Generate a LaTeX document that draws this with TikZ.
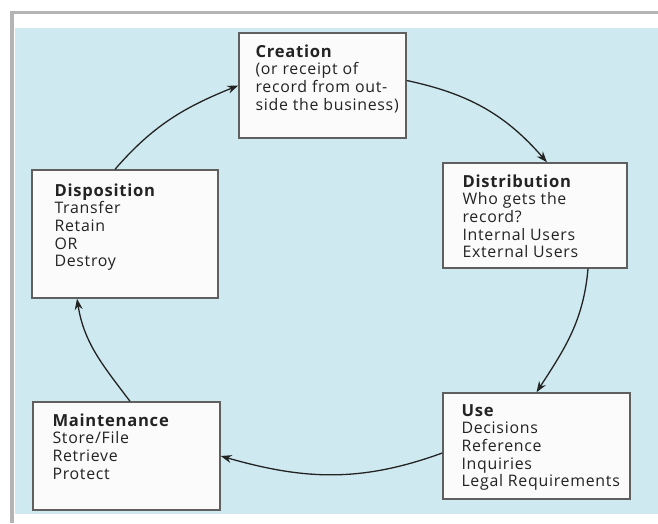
\documentclass[tikz,border=0pt]{standalone}
\usepackage{fontspec}
\setmainfont{Open Sans}[LetterSpace=4.5]
\usetikzlibrary{arrows.meta}
\definecolor{bgblue}{RGB}{206,234,240}
\definecolor{framegray}{RGB}{180,180,180}
\definecolor{boxline}{RGB}{95,95,95}
\definecolor{boxfill}{RGB}{251,251,251}
\definecolor{inkc}{RGB}{35,35,35}
\tikzset{
  cyclebox/.style={draw=boxline, line width=1.4pt, fill=boxfill, inner sep=0pt},
  boxtext/.style={anchor=base west, inner sep=0pt, text=inkc},
  cyclearrow/.style={draw=inkc, line width=1.3pt, -{Stealth[length=11pt,width=8pt]}}
}
\newcommand{\boxlines}[1]{\parbox[t]{220pt}{\fontsize{15.9}{17.6}\selectfont\raggedright #1}}
\newcommand{\hd}[1]{{\fontsize{16.6}{17.6}\selectfont\bfseries #1}}
\begin{document}
\begin{tikzpicture}[x=1pt,y=1pt]
\useasboundingbox (0,0) rectangle (658,523);
\fill[white] (0,0) rectangle (658,523);
% scanned page frame and background
\fill[bgblue] (15,9) rectangle (658,495);
\fill[framegray] (10,509) rectangle (658,511.5);
\fill[framegray] (10,0) rectangle (14,511.5);
% boxes
\node[cyclebox, minimum width=167pt, minimum height=105pt] (cre) at (322.5,437.5) {};
\node[cyclebox, minimum width=184pt, minimum height=105pt] (dist) at (535,307.5) {};
\node[cyclebox, minimum width=186pt, minimum height=128pt] (disp) at (125,289) {};
\node[cyclebox, minimum width=187pt, minimum height=106pt] (use) at (536.5,77) {};
\node[cyclebox, minimum width=187pt, minimum height=108pt] (maint) at (126.5,67) {};
% texts
\node[boxtext] (tcre) at ([xshift=17pt,yshift=-25pt]cre.north west)
  {\boxlines{\hd{Creation}\\(or receipt of\\record from out-\\side the business)}};
\node[boxtext] (tdist) at ([xshift=20pt,yshift=-25pt]dist.north west)
  {\boxlines{\hd{Distribution}\\Who gets the\\record?\\Internal Users\\External Users}};
\node[boxtext] (tdisp) at ([xshift=23pt,yshift=-27pt]disp.north west)
  {\boxlines{\hd{Disposition}\\Transfer\\Retain\\OR\\Destroy}};
\node[boxtext] (tuse) at ([xshift=19pt,yshift=-24pt]use.north west)
  {\boxlines{\hd{Use}\\Decisions\\Reference\\Inquiries\\Legal Requirements}};
\node[boxtext] (tmaint) at ([xshift=20pt,yshift=-25pt]maint.north west)
  {\boxlines{\hd{Maintenance}\\Store/File\\Retrieve\\Protect}};
% connectors
\draw[cyclearrow] ([yshift=5pt]cre.east) to[out=-12, in=131] ([xshift=12pt]dist.north);
\draw[cyclearrow] ([xshift=53pt]dist.south) to[out=-95, in=57] (use.north);
\draw[cyclearrow] ([yshift=-7pt]use.west) to[out=200, in=-16] (maint.east);
\draw[cyclearrow] ([xshift=3.5pt]maint.north) to[out=127, in=-81] ([xshift=-48pt]disp.south);
\draw[cyclearrow] ([xshift=-10pt]disp.north) to[out=49, in=202] (cre.west);
\end{tikzpicture}
\end{document}
